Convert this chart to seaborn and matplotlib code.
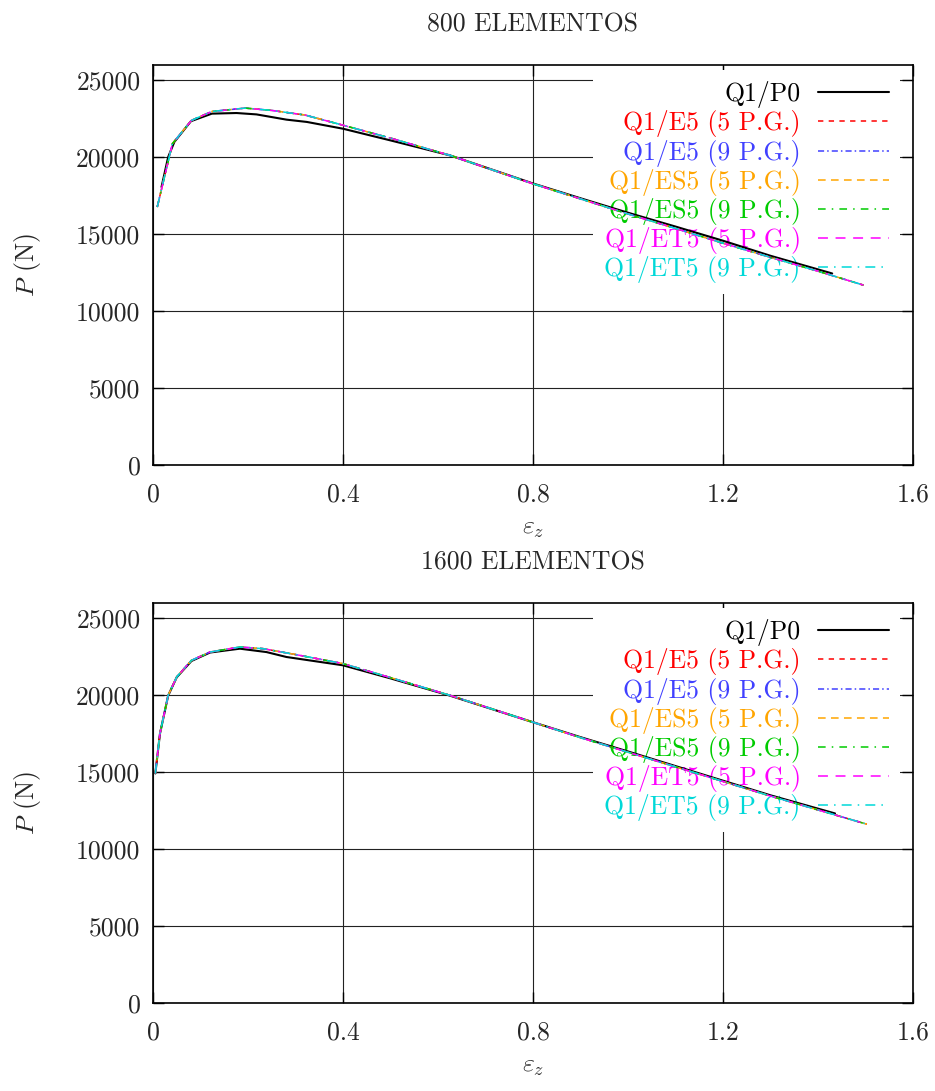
import numpy as np
import pandas as pd
import matplotlib
matplotlib.use("Agg")
import matplotlib.pyplot as plt
import seaborn as sns

# ---------------- data ----------------
titles = ["800 ELEMENTOS", "1600 ELEMENTOS"]
series_labels = ["Q1/P0", "Q1/E5 (5 P.G.)", "Q1/E5 (9 P.G.)", "Q1/ES5 (5 P.G.)",
                 "Q1/ES5 (9 P.G.)", "Q1/ET5 (5 P.G.)", "Q1/ET5 (9 P.G.)"]
series_colors = ["#000000", "#ff0000", "#4040ff", "#ffa500", "#00cc00", "#ff00ff", "#00d8d8"]

# 800 elementos
eps_p0_800 = [0.018, 0.032, 0.045, 0.08, 0.124, 0.176, 0.218, 0.281, 0.324, 0.40,
              0.50, 0.625, 0.80, 0.90, 1.00, 1.10, 1.20, 1.30, 1.43]
P_p0_800 = [18070, 20020, 21000, 22350, 22840, 22880, 22790, 22450, 22300, 21860,
            21100, 20130, 18300, 17340, 16400, 15500, 14580, 13600, 12450]
eps_enh_800 = [0.009, 0.041, 0.081, 0.124, 0.194, 0.25, 0.32, 0.401, 0.50, 0.625,
               0.80, 0.90, 1.00, 1.10, 1.20, 1.30, 1.40, 1.496]
P_enh_800 = [16770, 20890, 22400, 22980, 23200, 23050, 22750, 22080, 21250, 20130,
             18280, 17300, 16320, 15380, 14420, 13500, 12600, 11690]

# 1600 elementos
eps_p0_1600 = [0.005, 0.0147, 0.032, 0.05, 0.081, 0.12, 0.155, 0.183, 0.239, 0.281,
               0.40, 0.50, 0.625, 0.80, 0.90, 1.00, 1.10, 1.20, 1.30, 1.436]
P_p0_1600 = [14920, 17500, 19980, 21170, 22230, 22780, 22920, 23030, 22810, 22490,
             21950, 21100, 19980, 18250, 17280, 16350, 15400, 14450, 13500, 12320]
eps_enh_1600 = [0.005, 0.0147, 0.032, 0.05, 0.081, 0.12, 0.183, 0.232, 0.30, 0.40,
                0.50, 0.625, 0.80, 0.90, 1.00, 1.10, 1.20, 1.30, 1.40, 1.503]
P_enh_1600 = [14920, 17510, 20000, 21190, 22270, 22810, 23140, 23030, 22650, 22060,
              21150, 20000, 18250, 17250, 16300, 15350, 14400, 13450, 12550, 11620]

x_ticks = [0, 0.4, 0.8, 1.2, 1.6]
x_tick_labels = ["0", "0.4", "0.8", "1.2", "1.6"]
y_ticks = [0, 5000, 10000, 15000, 20000, 25000]
y_tick_labels = ["0", "5000", "10000", "15000", "20000", "25000"]

meshes = [
    (eps_p0_800, P_p0_800, eps_enh_800, P_enh_800),
    (eps_p0_1600, P_p0_1600, eps_enh_1600, P_enh_1600),
]

# ---------------- style ----------------
sns.set_style("ticks")
plt.rcParams["font.family"] = ["cmr10", "DejaVu Serif"]
plt.rcParams["mathtext.fontset"] = "cm"
plt.rcParams["axes.formatter.use_mathtext"] = True
plt.rcParams["axes.unicode_minus"] = False

styles = [
    dict(linestyle="-", lw=1.5),
    dict(linestyle=(0, (3.5, 3.5)), lw=1.1),
    dict(linestyle=(0, (4, 2, 1, 2)), lw=1.1),
    dict(linestyle=(0, (5, 3.5)), lw=1.1),
    dict(linestyle=(0, (5, 4, 1, 4)), lw=1.1),
    dict(linestyle=(0, (6.5, 5)), lw=1.1),
    dict(linestyle=(0, (6.5, 4, 1, 4)), lw=1.1),
]

fs = 18.5
fig = plt.figure(figsize=(9.35, 10.91), dpi=100)
ax_rects = [[0.1636, 0.5738, 0.8128, 0.3666], [0.1636, 0.0807, 0.8128, 0.3666]]

for k, (eps_p0, P_p0, eps_e, P_e) in enumerate(meshes):
    ax = fig.add_axes(ax_rects[k])
    handles = []
    for i, lab in enumerate(series_labels):
        if i == 0:
            df = pd.DataFrame({"eps": eps_p0, "P": P_p0})
        else:
            df = pd.DataFrame({"eps": eps_e, "P": P_e})
        sns.lineplot(data=df, x="eps", y="P", ax=ax, color=series_colors[i],
                     linestyle=styles[i]["linestyle"], linewidth=styles[i]["lw"],
                     sort=False, estimator=None, zorder=3)
        handles.append(ax.lines[-1])
    ax.set_xlim(0, 1.6)
    ax.set_ylim(0, 26000)
    ax.set_xticks(x_ticks)
    ax.set_xticklabels(x_tick_labels)
    ax.set_yticks(y_ticks)
    ax.set_yticklabels(y_tick_labels)
    ax.tick_params(direction="in", length=8, width=1, top=True, right=True,
                   labelsize=fs, color="black")
    ax.tick_params(axis="x", pad=13)
    ax.tick_params(axis="y", pad=9)
    ax.set_axisbelow(True)
    ax.grid(True, color="#222222", lw=0.8)
    for sp in ax.spines.values():
        sp.set_linewidth(1.2)
        sp.set_color("black")
    ax.set_xlabel(r"$\varepsilon_z$", fontsize=fs, labelpad=7)
    ax.set_ylabel(r"$P$ (N)", fontsize=fs, labelpad=24)
    ax.set_title(titles[k], fontsize=fs, pad=24)

    leg = ax.legend(handles, series_labels, loc="upper right", fontsize=fs,
                    markerfirst=False, frameon=True, fancybox=False,
                    handlelength=2.76, handletextpad=0.66, labelspacing=0.08,
                    borderaxespad=0.5, borderpad=0.45,
                    bbox_to_anchor=(1.0, 1.02))
    leg.get_frame().set_facecolor("white")
    leg.get_frame().set_edgecolor("none")
    leg.get_frame().set_alpha(1.0)
    leg.set_zorder(2.5)
    for t, c in zip(leg.get_texts(), series_colors):
        t.set_color(c)

fig.savefig("out.png", dpi=100)
